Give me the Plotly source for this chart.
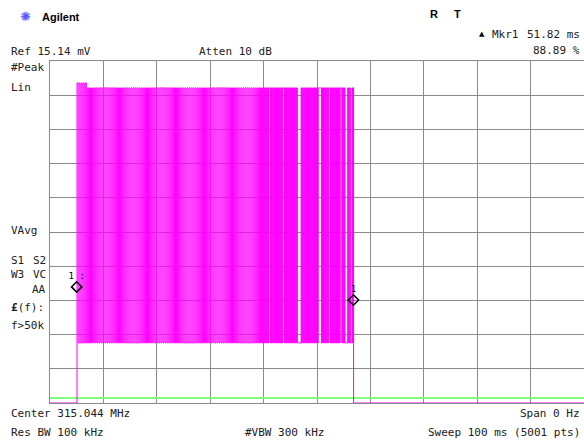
import plotly.graph_objects as go

# ---------------- data ----------------
ref_level_mV = 15.14
sweep_ms = 100.0
burst_start_ms = 5.06
burst_split_ms = 40.0
burst_end_ms = 56.85
high_mV = 13.95
high_first_mV = 14.17
low_mV = 2.66
display_line_mV = 0.22

# burst pattern, left part (fine stripes) and right part (dense, with gaps)
pattern_left = (
    "101010101010101010101010101010"
    "101010101010101010101010101010"
    "101010101010101010101010101010"
    "101010101010101010101010101010"
    "101010101010101010101010101010"
    "101010101010101010101010101010"
)
pattern_right = (
    "1010101010" "111" "01010101010101010101010" "111"
    "010101010101010101010101" "0000000"
    "10101010101010101010101010101010" "111111"
    "0101010101010" "111" "0101010101010101010" "111"
    "010101" "00000" "10101" "000" "101"
)

markers_ms = [5.0, 56.82]
markers_mV = [5.14, 4.56]
marker_labels = ["1 :", "1"]

# ---------------- build the stepped trace ----------------
t = [0.0]
v = [0.0]
def add_pattern(pat, t0, t1):
    unit = (t1 - t0) / len(pat)
    for i, c in enumerate(pat):
        t.append(t0 + i * unit)
        v.append(high_mV if c == "1" else low_mV)

add_pattern(pattern_left, burst_start_ms, burst_split_ms)
add_pattern(pattern_right, burst_split_ms, burst_end_ms)
for k in range(1, 10):
    if v[k] == high_mV:
        v[k] = high_first_mV
t += [burst_end_ms, sweep_ms]
v += [0.0, 0.0]

W, H = 584, 440
def px(x):
    return x / W
def py(y):
    return 1 - y / H

fig = go.Figure()
fig.add_trace(go.Scatter(
    x=[0, sweep_ms], y=[display_line_mV, display_line_mV], mode="lines",
    line=dict(color="#80ff80", width=2), hoverinfo="skip", showlegend=False))
fig.add_trace(go.Scatter(
    x=t, y=v, mode="lines", line=dict(color="#ff00ff", width=1, shape="hv"),
    showlegend=False))
fig.add_trace(go.Scatter(
    x=markers_ms, y=markers_mV, mode="markers+text",
    marker=dict(symbol="diamond-open", size=8, color="black", line=dict(width=1.5)),
    text=marker_labels, textposition="top center",
    textfont=dict(family="DejaVu Sans Mono", size=9, color="black"),
    cliponaxis=False, showlegend=False))

grid = "#8a8a8a"
fig.update_xaxes(
    range=[0, sweep_ms], domain=[px(50), 1.0],
    tickvals=[i * 10 for i in range(11)], showticklabels=False, ticks="",
    showgrid=True, gridcolor=grid, gridwidth=1, zeroline=False,
    showline=True, mirror=True, linecolor=grid, linewidth=1, layer="below traces")
fig.update_yaxes(
    range=[0, ref_level_mV], domain=[py(403), py(61)],
    tickvals=[i * ref_level_mV / 10 for i in range(11)], showticklabels=False, ticks="",
    showgrid=True, gridcolor=grid, gridwidth=1, zeroline=False,
    showline=True, mirror=True, linecolor=grid, linewidth=1, layer="below traces")

F = "DejaVu Sans Mono"
ann = []
def txt(s, x, y, anchor="left", size=11, bold=False, color="#202020", family=F):
    ann.append(dict(text=("<b>%s</b>" % s) if bold else s, x=px(x), y=py(y),
                    xref="paper", yref="paper", xanchor=anchor, yanchor="middle",
                    showarrow=False, font=dict(family=family, size=size, color=color)))

txt("✺", 25, 17, anchor="center", size=13, color="#5a5aff", family="DejaVu Sans")
txt("Agilent", 40, 17, bold=True, size=11, color="black", family="Liberation Sans")
txt("R", 428, 14, bold=True, size=11, color="black", family="Liberation Sans")
txt("T", 452, 14, bold=True, size=11, color="black", family="Liberation Sans")
txt("▲", 482, 34, anchor="center", size=7, color="black", family="DejaVu Sans")
txt("Mkr1", 490, 34)
txt("51.82 ms", 582, 34, anchor="right")
txt("88.89 %", 582, 50, anchor="right")
txt("Ref 15.14 mV", 9, 52)
txt("Atten 10 dB", 197, 52)
txt("#Peak", 9, 67)
txt("Lin", 9, 87)
txt("VAvg", 9, 230)
txt("S1", 9, 260)
txt("S2", 48, 260, anchor="right")
txt("W3", 9, 274)
txt("VC", 48, 274, anchor="right")
txt("AA", 48, 289, anchor="right")
txt("<b>£</b>(f):", 9, 307)
txt("f>50k", 9, 325)
txt("Center 315.044 MHz", 9, 413)
txt("Span 0 Hz", 582, 413, anchor="right")
txt("Res BW 100 kHz", 9, 432)
txt("#VBW 300 kHz", 243, 432)
txt("Sweep 100 ms (5001 pts)", 582, 432, anchor="right")

fig.update_layout(
    width=W, height=H, margin=dict(l=0, r=0, t=0, b=0, pad=0),
    paper_bgcolor="white", plot_bgcolor="white", annotations=ann)

fig.write_html("out.html", config={"displayModeBar": False},
               post_script="document.body.style.margin='0px';document.body.style.overflow='hidden';")
